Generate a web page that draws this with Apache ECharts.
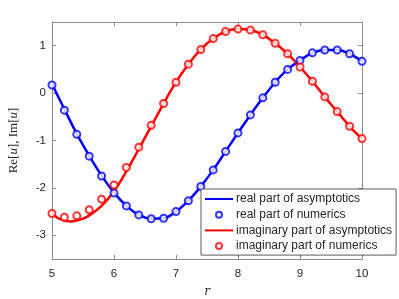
<!DOCTYPE html>
<html>
<head>
<meta charset="utf-8">
<script src="https://cdn.jsdelivr.net/npm/echarts@6/dist/echarts.min.js"></script>
<style>html,body{margin:0;padding:0;background:#fff}#c{width:399px;height:299px}</style>
</head>
<body>
<div id="c"></div>
<script>
// Numerics sample positions
const rNum = [5,5.2,5.4,5.6,5.8,6,6.2,6.4,6.6,6.8,7,7.2,7.4,7.6,7.8,8,8.2,8.4,8.6,8.8,9,9.2,9.4,9.6,9.8,10];
const reNum = [0.17,-0.36,-0.87,-1.33,-1.75,-2.11,-2.38,-2.57,-2.65,-2.64,-2.50,-2.27,-1.97,-1.62,-1.23,-0.84,-0.46,-0.10,0.23,0.50,0.69,0.85,0.91,0.91,0.83,0.67];
const imNum = [-2.54,-2.62,-2.59,-2.46,-2.24,-1.94,-1.57,-1.14,-0.68,-0.22,0.23,0.61,0.92,1.15,1.30,1.35,1.33,1.23,1.05,0.83,0.55,0.25,-0.08,-0.39,-0.70,-0.96];
// Asymptotics
const rAsymRe = [5,5.2,5.4,5.6,5.8,6,6.2,6.4,6.6,6.8,7,7.2,7.4,7.6,7.8,8,8.2,8.4,8.6,8.8,9,9.2,9.4,9.6,9.8,10];
const reAsym = [0.19,-0.34,-0.86,-1.32,-1.74,-2.10,-2.38,-2.57,-2.65,-2.64,-2.50,-2.27,-1.97,-1.62,-1.23,-0.84,-0.46,-0.10,0.23,0.50,0.69,0.85,0.91,0.91,0.83,0.67];
const rAsymIm = [5,5.1,5.2,5.3,5.4,5.5,5.6,5.8,6,6.2,6.4,6.6,6.8,7,7.2,7.4,7.6,7.8,8,8.2,8.4,8.6,8.8,9,9.2,9.4,9.6,9.8,10];
const imAsym = [-2.54,-2.64,-2.69,-2.71,-2.69,-2.65,-2.58,-2.38,-2.07,-1.65,-1.18,-0.70,-0.22,0.23,0.61,0.92,1.15,1.30,1.35,1.33,1.23,1.05,0.83,0.55,0.25,-0.08,-0.39,-0.70,-0.96];
const xTicks = [5,6,7,8,9,10];
const yTicks = [-3,-2,-1,0,1];
const seriesNames = ['real part of asymptotics','real part of numerics','imaginary part of asymptotics','imaginary part of numerics'];

const zip = (a,b) => a.map((v,i)=>[v,b[i]]);
const axisCol = '#8c8c8c';
const txtCol = '#262626';
const font = 'Liberation Sans, Arial, sans-serif';

const chart = echarts.init(document.getElementById('c'), null, {renderer:'canvas'});
const xBase = {type:'value', min:5, max:10, interval:1,
  axisLine:{onZero:false, lineStyle:{color:axisCol, width:1}},
  axisTick:{inside:true, length:4, lineStyle:{color:axisCol}},
  splitLine:{show:false}};
const yBase = {type:'value', min:-3.5, max:1.5,
  axisLine:{onZero:false, lineStyle:{color:axisCol, width:1}},
  axisTick:{inside:true, length:4, customValues:yTicks, lineStyle:{color:axisCol}},
  splitLine:{show:false}};
chart.setOption({
  animation:false,
  backgroundColor:'#fff',
  grid:{left:52, top:22, right:37, bottom:40, containLabel:false, outerBoundsMode:'none'},
  xAxis:[
    Object.assign({}, xBase, {position:'bottom',
      axisLabel:{color:txtCol, fontSize:11.5, fontFamily:font, margin:9, customValues:xTicks},
      name:'r', nameLocation:'middle', nameGap:27,
      nameTextStyle:{fontFamily:'DejaVu Serif, serif', fontStyle:'italic', fontSize:12, color:txtCol}}),
    Object.assign({}, xBase, {position:'top', axisLabel:{show:false}})
  ],
  yAxis:[
    Object.assign({}, yBase, {position:'left',
      axisLabel:{color:txtCol, fontSize:11.5, fontFamily:font, margin:6, customValues:yTicks},
      name:'Re[{i|u}], Im[{i|u}]', nameLocation:'middle', nameGap:32,
      nameTextStyle:{fontFamily:'Liberation Serif, serif', fontSize:13, color:txtCol,
        rich:{i:{fontFamily:'Liberation Serif, serif', fontStyle:'italic', fontSize:13, color:txtCol}}}}),
    Object.assign({}, yBase, {position:'right', axisLabel:{show:false}})
  ],
  legend:{
    orient:'vertical', left:201, top:189,
    padding:[4,4,3,3], itemGap:3.7, itemWidth:28, itemHeight:6,
    backgroundColor:'#fff', borderColor:'#333', borderWidth:0.8, borderRadius:0,
    textStyle:{fontSize:12, fontFamily:font, color:txtCol, lineHeight:12, padding:[0,0,0,-2]},
    data:[
      {name:seriesNames[0], itemStyle:{opacity:0}},
      {name:seriesNames[1]},
      {name:seriesNames[2], itemStyle:{opacity:0}},
      {name:seriesNames[3]}
    ]
  },
  series:[
    {name:seriesNames[0], type:'line', data:zip(rAsymRe, reAsym), smooth:0.4, symbol:'none',
      lineStyle:{color:'#0000ff', width:2.5}, itemStyle:{color:'#0000ff'}, z:2},
    {name:seriesNames[1], type:'scatter', data:zip(rNum, reNum), symbol:'circle', symbolSize:7,
      itemStyle:{color:'#fff', borderColor:'#0000ff', borderWidth:2}, z:3},
    {name:seriesNames[2], type:'line', data:zip(rAsymIm, imAsym), smooth:0.4, symbol:'none',
      lineStyle:{color:'#ff0000', width:2.5}, itemStyle:{color:'#ff0000'}, z:2},
    {name:seriesNames[3], type:'scatter', data:zip(rNum, imNum), symbol:'circle', symbolSize:7,
      itemStyle:{color:'#fff', borderColor:'#ff0000', borderWidth:2}, z:3}
  ]
});
</script>
</body>
</html>
